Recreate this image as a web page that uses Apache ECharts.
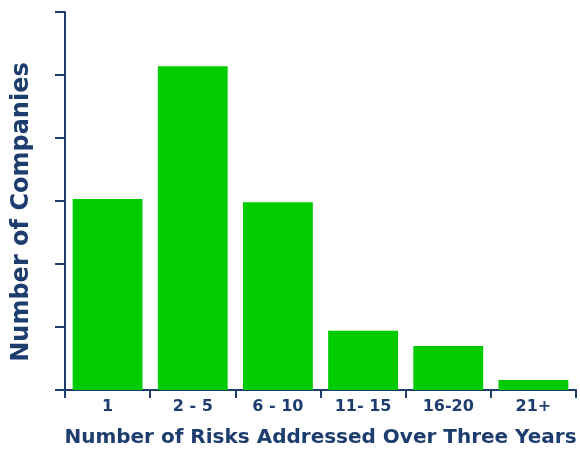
<!DOCTYPE html>
<html>
<head>
    <meta charset="utf-8">
    <title>Number of Risks Addressed</title>
    <script src="https://cdn.jsdelivr.net/npm/echarts@6/dist/echarts.min.js"></script>
    <style>
        html, body { margin: 0; padding: 0; background: #fff; }
        #chart1 { width: 580px; height: 451px; }
    </style>
</head>
<body>
<div id="chart1"></div>
<script>
    // 数据
    var categories = ['1', '2 - 5', '6 - 10', '11- 15', '16-20', '21+'];
    var companies = [30.3, 51.4, 29.8, 9.4, 7.0, 1.6];
    var yTicks = [0, 10, 20, 30, 40, 50, 60];
    var xTitle = 'Number of Risks Addressed Over Three Years';
    var yTitle = 'Number of Companies';

    var navy = '#1c3d6e';
    var chart = echarts.init(document.getElementById('chart1'));
    chart.setOption({
        animation: false,
        grid: { left: 65, right: 4, top: 12, bottom: 61, outerBoundsMode: 'none', containLabel: false },
        // y轴标题 (rotated, a bit lower than the axis centre like the original)
        graphic: [{
            type: 'text',
            x: 22,
            y: 212,
            rotation: Math.PI / 2,
            style: {
                text: yTitle,
                fill: navy,
                font: 'bold 24px "DejaVu Sans"',
                textAlign: 'center',
                textVerticalAlign: 'middle'
            }
        }],
        xAxis: {
            type: 'category',
            data: categories,
            name: xTitle,
            nameLocation: 'middle',
            nameGap: 38,
            nameTextStyle: { color: navy, fontFamily: 'DejaVu Sans', fontWeight: 'bold', fontSize: 20 },
            axisLine: { lineStyle: { color: navy, width: 2 } },
            axisTick: { show: true, length: 8, lineStyle: { color: navy, width: 2 } },
            axisLabel: { color: navy, fontFamily: 'DejaVu Sans', fontWeight: 'bold', fontSize: 16, margin: 9 }
        },
        yAxis: {
            type: 'value',
            min: yTicks[0],
            max: yTicks[yTicks.length - 1],
            interval: 10,
            axisLine: { show: true, lineStyle: { color: navy, width: 2 } },
            axisTick: { show: true, length: 10, lineStyle: { color: navy, width: 2 } },
            axisLabel: { show: false },
            splitLine: { show: false }
        },
        series: [{
            type: 'bar',
            data: companies,
            barCategoryGap: '18%',
            itemStyle: { color: '#00cc00' }
        }]
    });
</script>
</body>
</html>
